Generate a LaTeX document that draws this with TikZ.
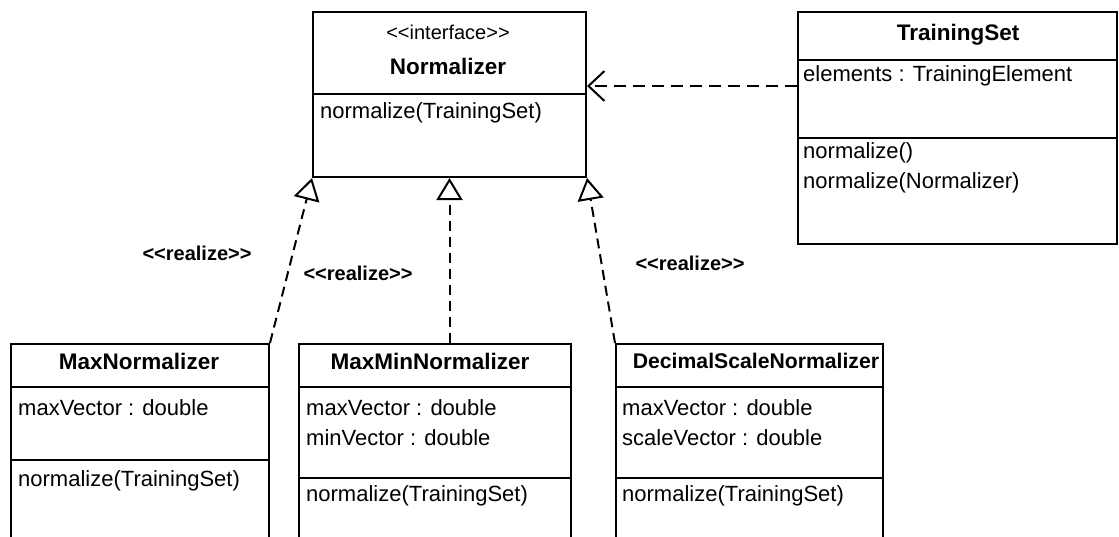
\documentclass[tikz,border=0pt]{standalone}
\usepackage{fontspec}
\setmainfont{Liberation Sans}
\usetikzlibrary{arrows.meta,calc}
\newcommand{\lguil}{<\kern0pt<}
\newcommand{\rguil}{>\kern0pt>}
\begin{document}
\begin{tikzpicture}[x=1pt,y=-1pt,
 box/.style={draw,line width=2pt,rectangle,inner sep=0pt,anchor=north west},
 txt/.style={anchor=west,inner sep=0pt,font=\fontsize{22}{26}\selectfont},
 ctxt/.style={inner sep=0pt,font=\fontsize{20}{24}\selectfont},
 ttl/.style={inner sep=0pt,font=\fontsize{22.5}{26}\selectfont\bfseries},
 sepline/.style={line width=2pt},
 real/.style={line width=2pt,dash pattern=on 10pt off 6pt,-{Triangle[open,length=22pt,width=26pt,line width=2pt]}},
 dep/.style={line width=2pt,dash pattern=on 12pt off 7pt,-{Straight Barb[length=16pt,width=30pt,line width=2pt]}},
 lbl/.style={inner sep=0pt,font=\fontsize{20}{24}\selectfont\bfseries}]
\useasboundingbox (0,0) rectangle (1119,536);
\clip (0,0) rectangle (1119,536);
% boxes
\node[box,minimum width=273pt,minimum height=165pt] (norm) at (312,11) {};
\node[box,minimum width=319pt,minimum height=232pt] (ts) at (797,11) {};
\node[box,minimum width=258pt,minimum height=220pt] (maxn) at (10,343) {};
\node[box,minimum width=272pt,minimum height=220pt] (maxmin) at (298,343) {};
\node[box,minimum width=267pt,minimum height=220pt] (dec) at (615,343) {};
% compartments
\draw[sepline] ($(norm.north west)+(0,83)$) -- ($(norm.north east)+(0,83)$);
\draw[sepline] ($(ts.north west)+(0,49)$) -- ($(ts.north east)+(0,49)$);
\draw[sepline] ($(ts.north west)+(0,127)$) -- ($(ts.north east)+(0,127)$);
\draw[sepline] ($(maxn.north west)+(0,44)$) -- ($(maxn.north east)+(0,44)$);
\draw[sepline] ($(maxn.north west)+(0,117)$) -- ($(maxn.north east)+(0,117)$);
\draw[sepline] ($(maxmin.north west)+(0,44)$) -- ($(maxmin.north east)+(0,44)$);
\draw[sepline] ($(maxmin.north west)+(0,135)$) -- ($(maxmin.north east)+(0,135)$);
\draw[sepline] ($(dec.north west)+(0,44)$) -- ($(dec.north east)+(0,44)$);
\draw[sepline] ($(dec.north west)+(0,135)$) -- ($(dec.north east)+(0,135)$);
% texts
\node[ctxt] (nst) at (448,32) {\lguil interface\rguil};
\node[ttl] (nt) at (448,66) {Normalizer};
\node[txt] (nm) at (320,113) {normalize(TrainingSet)};
\node[ttl] (tst) at (958,35) {TrainingSet};
\node[txt] (tsa) at (803,76) {elements : TrainingElement};
\node[txt] (tsm1) at (803,153) {normalize()};
\node[txt] (tsm2) at (803,183) {normalize(Normalizer)};
\node[ttl] (mnt) at (139,361) {MaxNormalizer};
\node[txt] (mna) at (18,408) {maxVector : double};
\node[txt] (mnm) at (18,481) {normalize(TrainingSet)};
\node[ttl] (mmt) at (430,361) {MaxMinNormalizer};
\node[txt] (mma1) at (306,408) {maxVector : double};
\node[txt] (mma2) at (306,438) {minVector : double};
\node[txt] (mmm) at (306,496) {normalize(TrainingSet)};
\node[ttl,font=\fontsize{21.2}{26}\selectfont\bfseries] (dt) at (756,361) {DecimalScaleNormalizer};
\node[txt] (da1) at (622,408) {maxVector : double};
\node[txt] (da2) at (622,438) {scaleVector : double};
\node[txt] (dm) at (622,496) {normalize(TrainingSet)};
% connectors
\draw[dep] ($(ts.north west)+(0,75)$) -- ($(norm.north east)+(0,75)$);
\draw[real] (maxn.north east) -- (norm.south west);
\draw[real] (norm.south |- maxmin.north) -- (norm.south);
\draw[real] (dec.north west) -- (norm.south east);
% labels
\node[lbl] (r1) at (197,253) {\lguil realize\rguil};
\node[lbl] (r2) at (358,273) {\lguil realize\rguil};
\node[lbl] (r3) at (690,263) {\lguil realize\rguil};
\end{tikzpicture}
\end{document}
